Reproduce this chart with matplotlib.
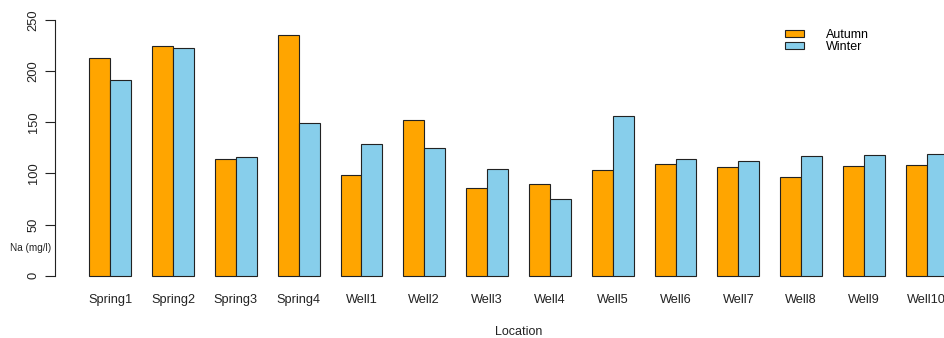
#%%
# sodium in springs and wells, autumn vs winter (grouped bars, R-barplot look)

import numpy as np
import matplotlib.pyplot as plt

# %%
locations = ['Spring1', 'Spring2', 'Spring3', 'Spring4', 'Well1', 'Well2', 'Well3',
             'Well4', 'Well5', 'Well6', 'Well7', 'Well8', 'Well9', 'Well10']
autumn = [213, 224, 114, 235, 98, 152, 86, 89.5, 103, 109, 106.5, 96, 107.5, 108]
winter = [191, 222, 115.5, 149.5, 128.5, 124.5, 104, 75, 156, 114.5, 112, 117, 117.5, 119]
y_ticks = [0, 50, 100, 150, 200, 250]

plt.rcParams['font.family'] = ['Liberation Sans', 'DejaVu Sans']

# %%
fig = plt.figure(figsize=(9.45, 3.38), dpi=100)
W, H = 945, 338
# plot region runs off the right side of the picture, like the original
ax = fig.add_axes([55 / W, (H - 286) / H, 927 / W, (286 - 9.5) / H])

n = len(locations)
left = 1 + 3 * np.arange(n)   # space=c(0,1) in R terms
ax.bar(left, autumn, width=1, align='edge', color='#FFA500',
       edgecolor='#222222', linewidth=0.8, label='Autumn')
ax.bar(left + 1, winter, width=1, align='edge', color='#87CEEB',
       edgecolor='#222222', linewidth=0.8, label='Winter')

ax.set_xlim(-0.64, 43.64)
ax.set_ylim(-10, 260)

ax.set_xticks(left + 1)
ax.set_xticklabels(locations, fontsize=9.2, color='#222222')
ax.tick_params(axis='x', length=0, pad=6)

ax.set_yticks(y_ticks)
ax.set_yticklabels([str(t) for t in y_ticks], rotation=90, va='center',
                   fontsize=9.3, color='#222222')
ax.tick_params(axis='y', length=7, width=0.8, color='#222222', pad=4)

for s in ['top', 'right', 'bottom']:
    ax.spines[s].set_visible(False)
ax.spines['left'].set_bounds(0, 250)
ax.spines['left'].set_color('#222222')
ax.spines['left'].set_linewidth(0.8)

fig.text(519 / W, 1 - 332 / H, 'Location', ha='center', va='center',
         fontsize=9, color='#222222')
fig.text(10 / W, 1 - 248 / H, 'Na (mg/l)', ha='left', va='center',
         fontsize=7.2, color='#222222')

ax.legend(loc='upper left', bbox_to_anchor=(785.5 / W, 1 - 29 / H),
          bbox_transform=fig.transFigure, frameon=False, fontsize=9,
          handlelength=1.52, handleheight=0.5, handletextpad=1.68,
          labelspacing=0.0, borderpad=0, borderaxespad=0)

fig.savefig('out.png', dpi=100)
